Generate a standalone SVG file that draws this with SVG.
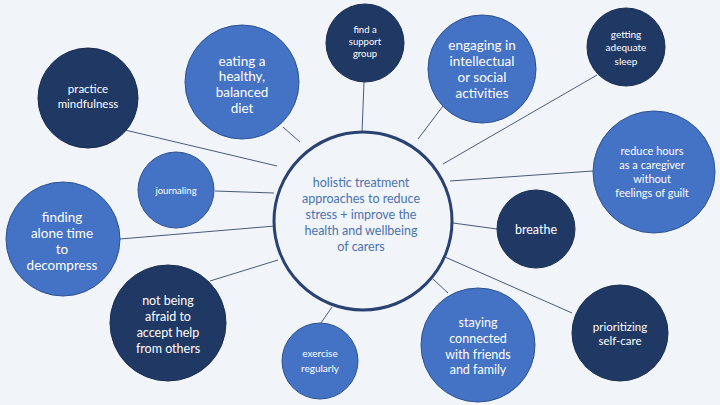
<svg xmlns="http://www.w3.org/2000/svg" width="720" height="405" viewBox="0 0 720 405">
<style>
.bg{fill:#f1f5f9}
.dark{fill:#203864;stroke:#1a2d50;stroke-width:1}
.mid{fill:#4472c4;stroke:#2f528f;stroke-width:1}
.hub{fill:#f1f5f9;stroke:#2a4272;stroke-width:3}
.t{font-family:Lato,"Open Sans","Liberation Sans",sans-serif;fill:#ffffff;text-anchor:middle}
.ht{font-family:Lato,"Open Sans","Liberation Sans",sans-serif;fill:#4a72b0;text-anchor:middle;font-size:12.5px}
.con line{stroke:#4a5a7a;stroke-width:1}
</style>
<rect class="bg" x="0" y="0" width="720" height="405"/>
<g id="connectors" class="con">
<line x1="125" y1="130" x2="277" y2="166"/>
<line x1="283" y1="127" x2="300" y2="142"/>
<line x1="364" y1="82" x2="362" y2="133"/>
<line x1="443" y1="106" x2="418" y2="139"/>
<line x1="597" y1="75" x2="443" y2="164"/>
<line x1="593" y1="171" x2="450" y2="181"/>
<line x1="497" y1="229" x2="453" y2="223"/>
<line x1="572" y1="313" x2="445" y2="257"/>
<line x1="448" y1="293" x2="433" y2="279"/>
<line x1="321" y1="323" x2="332" y2="307"/>
<line x1="210" y1="281" x2="278" y2="260"/>
<line x1="120" y1="239" x2="275" y2="226"/>
<line x1="215" y1="191" x2="274" y2="193"/>
</g>
<g id="hub">
<circle class="hub" cx="363" cy="221" r="89"/>
<text class="ht" x="361" y="187">holistic treatment</text>
<text class="ht" x="361" y="203">approaches to reduce</text>
<text class="ht" x="361" y="219">stress + improve the</text>
<text class="ht" x="361" y="235">health and wellbeing</text>
<text class="ht" x="361" y="251">of carers</text>
</g>
<g id="mindfulness">
<circle class="dark" cx="88" cy="98" r="50"/>
<text class="t" font-size="11.5" x="88" y="93">practice</text>
<text class="t" font-size="11.5" x="88" y="108">mindfulness</text>
</g>
<g id="diet">
<circle class="mid" cx="242" cy="82" r="57"/>
<text class="t" font-size="13.5" x="242" y="66">eating a</text>
<text class="t" font-size="13.5" x="242" y="81">healthy,</text>
<text class="t" font-size="13.5" x="242" y="97">balanced</text>
<text class="t" font-size="13.5" x="242" y="113">diet</text>
</g>
<g id="support">
<circle class="dark" cx="365" cy="43" r="39"/>
<text class="t" font-size="9.5" x="365" y="33">find a</text>
<text class="t" font-size="9.5" x="365" y="45">support</text>
<text class="t" font-size="9.5" x="365" y="57">group</text>
</g>
<g id="engaging">
<circle class="mid" cx="482" cy="69" r="54"/>
<text class="t" font-size="13.5" x="482" y="50">engaging in</text>
<text class="t" font-size="13.5" x="482" y="66">intellectual</text>
<text class="t" font-size="13.5" x="482" y="82">or social</text>
<text class="t" font-size="13.5" x="482" y="98">activities</text>
</g>
<g id="sleep">
<circle class="dark" cx="626" cy="47" r="39"/>
<text class="t" font-size="10" x="626" y="38">getting</text>
<text class="t" font-size="10" x="626" y="51">adequate</text>
<text class="t" font-size="10" x="626" y="65">sleep</text>
</g>
<g id="hours">
<circle class="mid" cx="654" cy="172" r="61"/>
<text class="t" font-size="11" x="652" y="155">reduce hours</text>
<text class="t" font-size="11" x="652" y="169">as a caregiver</text>
<text class="t" font-size="11" x="652" y="183">without</text>
<text class="t" font-size="11" x="652" y="197">feelings of guilt</text>
</g>
<g id="breathe">
<circle class="dark" cx="536" cy="229" r="39"/>
<text class="t" font-size="12.5" x="536" y="234">breathe</text>
</g>
<g id="selfcare">
<circle class="dark" cx="620" cy="333" r="48"/>
<text class="t" font-size="11.5" x="620" y="331">prioritizing</text>
<text class="t" font-size="11.5" x="620" y="345">self-care</text>
</g>
<g id="connected">
<circle class="mid" cx="478" cy="345" r="57"/>
<text class="t" font-size="12.5" x="478" y="327">staying</text>
<text class="t" font-size="12.5" x="478" y="343">connected</text>
<text class="t" font-size="12.5" x="478" y="359">with friends</text>
<text class="t" font-size="12.5" x="478" y="374">and family</text>
</g>
<g id="exercise">
<circle class="mid" cx="320" cy="361" r="38"/>
<text class="t" font-size="10" x="320" y="357">exercise</text>
<text class="t" font-size="10" x="320" y="372">regularly</text>
</g>
<g id="help">
<circle class="dark" cx="168" cy="323" r="58"/>
<text class="t" font-size="12.5" x="168" y="305">not being</text>
<text class="t" font-size="12.5" x="168" y="321">afraid to</text>
<text class="t" font-size="12.5" x="168" y="337">accept help</text>
<text class="t" font-size="12.5" x="168" y="353">from others</text>
</g>
<g id="alone">
<circle class="mid" cx="63" cy="239" r="57"/>
<text class="t" font-size="13.5" x="62" y="222">finding</text>
<text class="t" font-size="13.5" x="62" y="238">alone time</text>
<text class="t" font-size="13.5" x="62" y="254">to</text>
<text class="t" font-size="13.5" x="62" y="270">decompress</text>
</g>
<g id="journaling">
<circle class="mid" cx="176" cy="190" r="38"/>
<text class="t" font-size="9.5" x="176" y="194">journaling</text>
</g>
</svg>
